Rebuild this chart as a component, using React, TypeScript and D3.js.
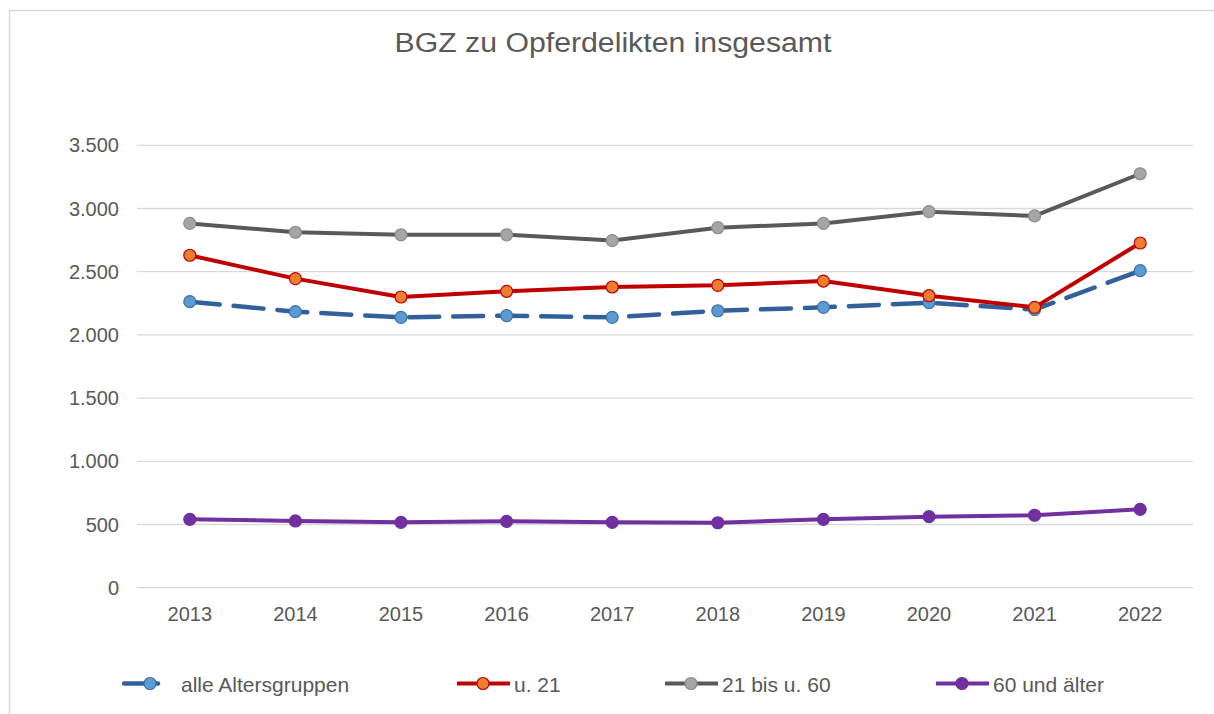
import React from "react";
import * as d3 from "d3";

const years = ["2013", "2014", "2015", "2016", "2017", "2018", "2019", "2020", "2021", "2022"];
const alleAltersgruppen = [2263, 2184, 2139, 2152, 2139, 2191, 2218, 2255, 2200, 2508];
const unter21 = [2630, 2445, 2300, 2345, 2379, 2392, 2426, 2310, 2218, 2727];
const von21bis60 = [2882, 2812, 2792, 2792, 2746, 2848, 2882, 2975, 2941, 3275];
const ab60 = [541, 528, 517, 525, 517, 514, 541, 562, 573, 620];
const yTicks = [0, 500, 1000, 1500, 2000, 2500, 3000, 3500];
const title = "BGZ zu Opferdelikten insgesamt";

const seriesNames = ["alle Altersgruppen", "u. 21", "21 bis u. 60", "60 und älter"];

const W = 1214;
const H = 714;
const TEXT = "#595959";
const FONT = "'Liberation Sans', Arial, sans-serif";

type Style = { line: string; fill: string; stroke: string; dash?: string; width: number; r: number };
const styles: Style[] = [
  { line: "#31609A", fill: "#5B9BD5", stroke: "#41719C", dash: "30,14", width: 4.5, r: 6 },
  { line: "#C00000", fill: "#ED7D31", stroke: "#C00000", width: 4, r: 6 },
  { line: "#595959", fill: "#A5A5A5", stroke: "#8C8C8C", width: 4, r: 6 },
  { line: "#7030A0", fill: "#7030A0", stroke: "#7030A0", width: 4, r: 6 },
];

const deFormat = d3.formatLocale({ decimal: ",", thousands: ".", grouping: [3], currency: ["", "€"] }).format(",d");

export default function App() {
  const left = 137;
  const right = 1193;
  const top = 145.3;
  const bottom = 587.7;

  const x = d3.scaleBand<string>().domain(years).range([left, right]);
  const xc = (yr: string) => (x(yr) as number) + x.bandwidth() / 2;
  const y = d3.scaleLinear().domain([0, 3500]).range([bottom, top]);

  const data = [alleAltersgruppen, unter21, von21bis60, ab60];
  const line = d3
    .line<number>()
    .x((_, i) => xc(years[i]))
    .y((v) => y(v));

  const legendStarts = [124, 457, 665, 936];
  const legendY = 683.5;

  return (
    <svg
      width={W}
      height={H}
      viewBox={`0 0 ${W} ${H}`}
      style={{ position: "absolute", left: 0, top: 0, display: "block", background: "#fff" }}
      fontFamily={FONT}
    >
      <rect x={0} y={0} width={W} height={H} fill="#fff" />
      <rect x={9.5} y={10.5} width={W + 20} height={H + 20} fill="none" stroke="#D9D9D9" strokeWidth={1.5} />

      <g transform={`translate(${W / 2 + 6},52) scale(1.12,1)`}>
        <text x={0} y={0} textAnchor="middle" fontSize={27} fill={TEXT}>
          {title}
        </text>
      </g>

      {yTicks.map((t) => (
        <g key={t}>
          <line x1={left} x2={right} y1={y(t)} y2={y(t)} stroke="#D9D9D9" strokeWidth={1.3} />
          <text x={119} y={y(t) + 7} textAnchor="end" fontSize={20} fill={TEXT}>
            {deFormat(t)}
          </text>
        </g>
      ))}

      {years.map((yr) => (
        <text key={yr} x={xc(yr)} y={621} textAnchor="middle" fontSize={20} fill={TEXT}>
          {yr}
        </text>
      ))}

      {data.map((vals, si) => {
        const s = styles[si];
        return (
          <g key={si}>
            <path
              d={line(vals) || ""}
              fill="none"
              stroke={s.line}
              strokeWidth={s.width}
              strokeDasharray={s.dash}
              strokeLinejoin="round"
              strokeLinecap={s.dash ? "round" : "butt"}
            />
            {vals.map((v, i) => (
              <circle key={i} cx={xc(years[i])} cy={y(v)} r={s.r} fill={s.fill} stroke={s.stroke} strokeWidth={1.2} />
            ))}
          </g>
        );
      })}

      {seriesNames.map((name, si) => {
        const s = styles[si];
        const x0 = legendStarts[si];
        return (
          <g key={name}>
            <line
              x1={x0}
              x2={s.dash ? x0 + 34 : x0 + 53}
              y1={legendY}
              y2={legendY}
              stroke={s.line}
              strokeWidth={s.width}
              strokeLinecap={s.dash ? "round" : "butt"}
            />
            <circle cx={x0 + 26} cy={legendY} r={s.r} fill={s.fill} stroke={s.stroke} strokeWidth={1.2} />
            <text x={x0 + 57} y={legendY + 8} fontSize={21} fill={TEXT}>
              {name}
            </text>
          </g>
        );
      })}
    </svg>
  );
}
